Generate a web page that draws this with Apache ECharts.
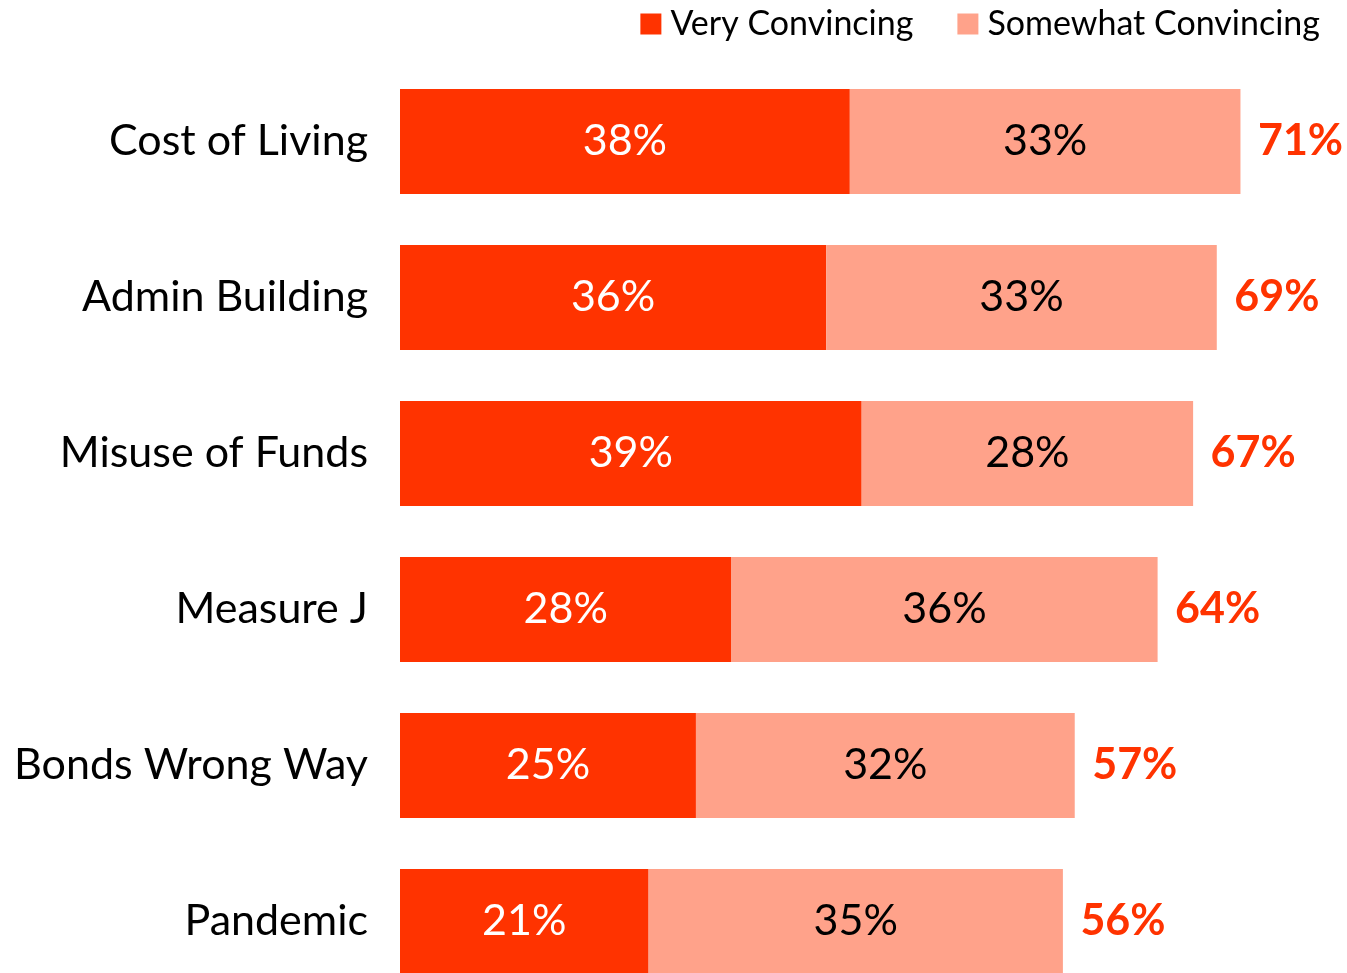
<!DOCTYPE html>
<html>
<head>
<meta charset="utf-8">
<script src="https://cdn.jsdelivr.net/npm/echarts@6/dist/echarts.min.js"></script>
<style>
  html, body { margin: 0; padding: 0; background: #fff; }
  #chart { width: 1347px; height: 973px; }
</style>
</head>
<body>
<div id="chart"></div>
<script>
var categories = ['Cost of Living', 'Admin Building', 'Misuse of Funds', 'Measure J', 'Bonds Wrong Way', 'Pandemic'];
var veryConvincing = [38, 36, 39, 28, 25, 21];
var somewhatConvincing = [33, 33, 28, 36, 32, 35];
var totals = [71, 69, 67, 64, 57, 56];

var FONT = 'Lato';
var DARK = '#FF3300';
var LIGHT = '#FFA28A';

var chart = echarts.init(document.getElementById('chart'));
chart.setOption({
    animation: false,
    textStyle: { fontFamily: FONT },
    legend: {
        data: ['Very Convincing', 'Somewhat Convincing'],
        top: 2,
        right: 22,
        itemWidth: 21,
        itemHeight: 21,
        itemGap: 44,
        icon: 'rect',
        textStyle: { fontSize: 34, color: '#000', fontFamily: FONT, padding: [0, 0, 0, 4] }
    },
    grid: {
        left: 400,
        right: 0,
        top: 63.5,
        bottom: -26.5,
        containLabel: false,
        outerBoundsMode: 'none'
    },
    xAxis: {
        type: 'value',
        min: 0,
        max: 80,
        show: false
    },
    yAxis: {
        type: 'category',
        data: categories,
        inverse: true,
        axisLine: { show: false },
        axisTick: { show: false },
        axisLabel: {
            margin: 32,
            fontSize: 43,
            color: '#000',
            fontFamily: FONT
        }
    },
    series: [{
        name: 'Very Convincing',
        type: 'bar',
        stack: 'total',
        barWidth: 105,
        data: veryConvincing,
        itemStyle: { color: DARK },
        label: {
            show: true,
            position: 'inside',
            formatter: '{c}%',
            color: '#fff',
            fontSize: 43,
            fontFamily: FONT
        }
    }, {
        name: 'Somewhat Convincing',
        type: 'bar',
        stack: 'total',
        barWidth: 105,
        data: somewhatConvincing,
        itemStyle: { color: LIGHT },
        label: {
            show: true,
            position: 'inside',
            formatter: '{c}%',
            color: '#000',
            fontSize: 43,
            fontFamily: FONT
        }
    }, {
        name: 'Total',
        type: 'scatter',
        data: totals.map(function (t, i) { return [t, categories[i]]; }),
        symbolSize: 1,
        itemStyle: { color: 'rgba(0,0,0,0)', opacity: 1 },
        silent: true,
        label: {
            show: true,
            position: 'right',
            distance: 17,
            formatter: function (p) { return p.value[0] + '%'; },
            color: DARK,
            fontWeight: 'bold',
            fontSize: 43,
            fontFamily: FONT
        }
    }]
});
</script>
</body>
</html>
